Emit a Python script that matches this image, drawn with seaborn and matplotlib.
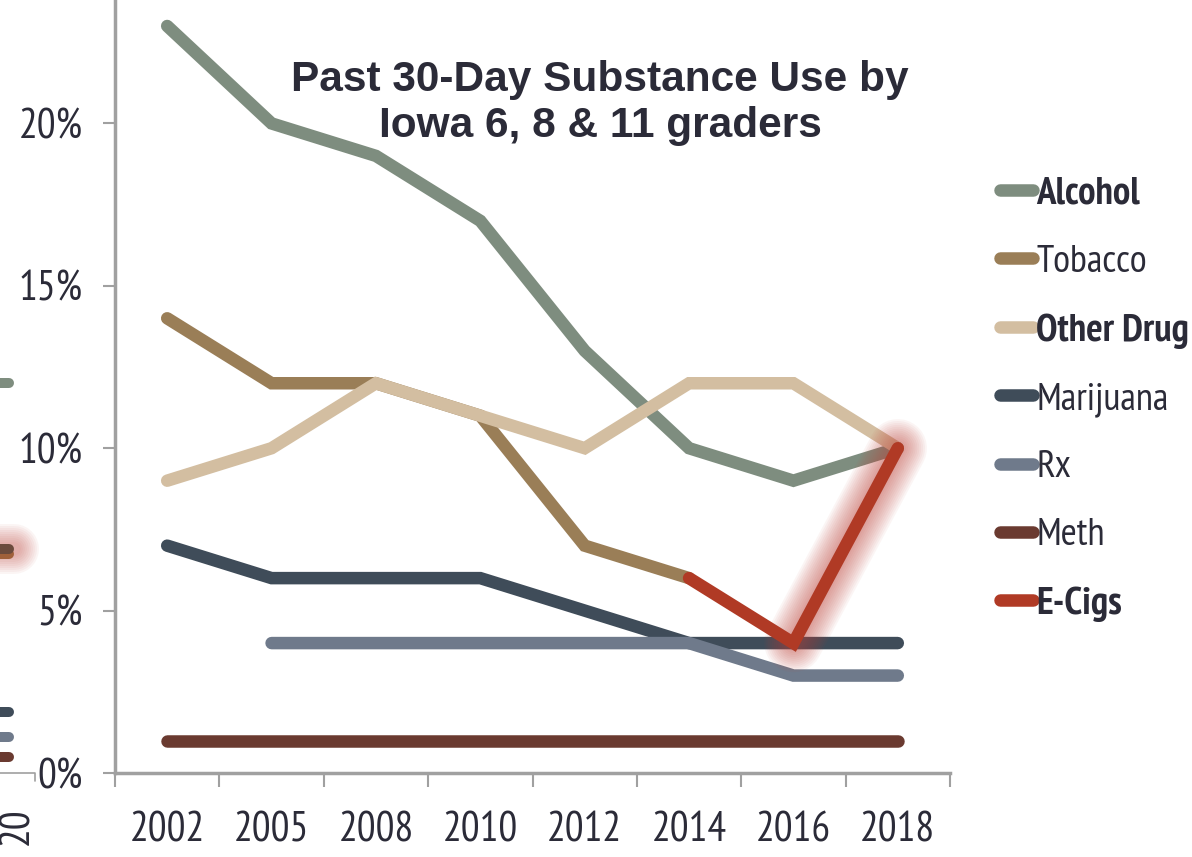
import numpy as np
import pandas as pd
import matplotlib
matplotlib.use("Agg")
import matplotlib.pyplot as plt
from matplotlib import font_manager
from matplotlib.lines import Line2D
import seaborn as sns

years = ["2002", "2005", "2008", "2010", "2012", "2014", "2016", "2018"]
alcohol = [23, 20, 19, 17, 13, 10, 9, 10]
tobacco = [14, 12, 12, 11, 7, 6, np.nan, np.nan]
other_drug = [9, 10, 12, 11, 10, 12, 12, 10]
marijuana = [7, 6, 6, 6, 5, 4, 4, 4]
rx = [np.nan, 4, 4, 4, 4, 4, 3, 3]
meth = [1, 1, 1, 1, 1, 1, 1, 1]
ecigs = [np.nan, np.nan, np.nan, np.nan, np.nan, 6, 4, 10]
y_ticks = [0, 5, 10, 15, 20]
y_tick_labels = ["0%", "5%", "10%", "15%", "20%"]

series_names = ["Alcohol", "Tobacco", "Other Drug", "Marijuana", "Rx", "Meth", "E-Cigs"]
series_values = [alcohol, tobacco, other_drug, marijuana, rx, meth, ecigs]
series_colors = ["#7e8d7f", "#9a7e57", "#d3bea1", "#3f4c59", "#6f7a8b", "#6a3a30", "#b03a25"]
draw_order = ["Alcohol", "Tobacco", "Marijuana", "Rx", "Other Drug", "Meth", "E-Cigs"]
bold_names = {"Alcohol", "Other Drug", "E-Cigs"}

# fragments of a neighbouring chart visible at the left edge
neighbor_vals = [12.0, 1.88, 1.1, 0.5]
neighbor_colors = ["#7e8d7f", "#3f4c59", "#6f7a8b", "#6a3a30"]
neighbor_ecig = 6.9

sns.set_theme(style="white")


def _w(f):
    w = f.weight
    if isinstance(w, str):
        return font_manager.weight_dict.get(w, 400)
    return int(w)


entries = font_manager.fontManager.ttflist
candidates = ["Liberation Sans Narrow", "Arial Narrow", "PT Sans Narrow", "Archivo Narrow",
              "Roboto Condensed", "Pragati Narrow"]
narrow = None
for cand in candidates:
    if any(f.name == cand and _w(f) >= 600 for f in entries) and \
       any(f.name == cand and _w(f) < 600 for f in entries):
        narrow = cand
        break
if narrow is None:
    for cand in candidates:
        if any(f.name == cand for f in entries):
            narrow = cand
            break
is_narrow = narrow is not None
if narrow is None:
    narrow = "Liberation Sans"
plt.rcParams["font.family"] = [narrow, "DejaVu Sans"]
text_color = "#2b2b38"
tick_fs = 30 if is_narrow else 24
leg_fs = 28 if is_narrow else 21

fig = plt.figure(figsize=(11.92, 8.57), dpi=100)
ax = fig.add_axes([115 / 1192, 1 - 773 / 857, (950 - 115) / 1192, 773 / 857])

x_idx = np.arange(len(years))
df = pd.DataFrame({"x": x_idx})
for n, v in zip(series_names, series_values):
    df[n] = v
color_of = dict(zip(series_names, series_colors))

lw = 9
for i, n in enumerate(draw_order):
    if n == "E-Cigs":
        glow = df["E-Cigs"].copy()
        glow.iloc[:6] = np.nan
        for w in np.linspace(12, 42, 12):
            ax.plot(df["x"], glow, color="#c0443a", lw=w, alpha=0.05,
                    solid_capstyle="round", solid_joinstyle="round", zorder=1.5 + i)
    sub = df[["x", n]].dropna()
    sns.lineplot(data=sub, x="x", y=n, color=color_of[n], linewidth=lw, ax=ax,
                 solid_capstyle="round", solid_joinstyle="miter", zorder=2 + i)

ax.set_xlim(-0.5, len(years) - 0.5)
ax.set_ylim(0, 23.8)
ax.set_xlabel("")
ax.set_ylabel("")

ax.set_xticks(np.arange(-0.5, len(years), 1.0))
ax.set_xticklabels([])
ax.set_xticks(x_idx, minor=True)
ax.set_xticklabels(years, minor=True, fontsize=tick_fs, color=text_color)
ax.tick_params(axis="x", which="major", direction="out", length=10, width=1.5,
               color="#a0a0a0", bottom=True)
ax.tick_params(axis="x", which="minor", length=0, pad=28, bottom=True)

ax.set_yticks(y_ticks)
ax.set_yticklabels(y_tick_labels, fontsize=tick_fs, color=text_color)
ax.tick_params(axis="y", direction="out", length=9, width=1.5, color="#a0a0a0",
               left=True, pad=14)

for s in ["top", "right"]:
    ax.spines[s].set_visible(False)
for s in ["left", "bottom"]:
    ax.spines[s].set_color("#a0a0a0")
    ax.spines[s].set_linewidth(2.5)

fig.text(600 / 1192, 1 - 103 / 857, "Past 30-Day Substance Use by\nIowa 6, 8 & 11 graders",
         ha="center", va="center", fontsize=30.5, fontweight="bold", color=text_color,
         family=["Liberation Sans", "DejaVu Sans"], linespacing=1.18)

handles = [Line2D([0], [0], color=c, lw=lw, solid_capstyle="round") for c in series_colors]
leg = fig.legend(handles, series_names, loc="upper left",
                 bbox_to_anchor=(984 / 1192, 1 - 161 / 857), frameon=False,
                 fontsize=leg_fs, handlelength=0.85, handletextpad=0.1,
                 labelspacing=0.85, borderaxespad=0)
for t in leg.get_texts():
    t.set_color(text_color)
    if t.get_text() in bold_names:
        t.set_fontweight("bold")

# left-edge fragments of the neighbouring chart
ax2 = fig.add_axes([0, 1 - 773 / 857, 40 / 1192, 773 / 857])
ax2.set_xlim(0, 1)
ax2.set_ylim(0, 23.8)
ax2.axis("off")
for w in np.linspace(10, 36, 10):
    ax2.plot([-0.5, 0.35], [neighbor_ecig, neighbor_ecig], color="#c0443a", lw=w,
             alpha=0.05, solid_capstyle="round")
ax2.plot([-0.5, 0.22], [neighbor_ecig - 0.15, neighbor_ecig - 0.15], color="#a0603a",
         lw=lw * 0.8, solid_capstyle="round")
ax2.plot([-0.5, 0.22], [neighbor_ecig, neighbor_ecig], color="#6b4a3c", lw=lw * 0.8,
         solid_capstyle="round")
for v, c in zip(neighbor_vals, neighbor_colors):
    ax2.plot([-0.5, 0.22], [v, v], color=c, lw=lw * 0.8, solid_capstyle="round")
ax2.plot([0, 0.88, 0.88], [0.0, 0.0, -0.25], color="#a0a0a0", lw=1.2, clip_on=False)
fig.text(-2 / 1192, 1 - 826 / 857, "20", rotation=90, ha="left", va="center",
         fontsize=tick_fs, color=text_color)

fig.savefig("out.png", dpi=100)
